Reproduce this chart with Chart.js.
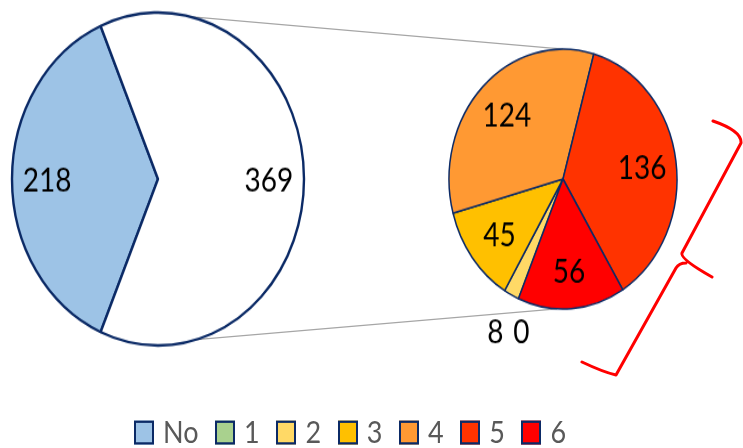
<!DOCTYPE html>
<html>
<head>
<meta charset="utf-8">
<script src="https://cdn.jsdelivr.net/npm/chart.js@4/dist/chart.umd.min.js"></script>
<style>
  html, body { margin: 0; padding: 0; background: #fff; }
  #wrap { position: relative; width: 743px; height: 448px; overflow: hidden; background: #fff; font-family: Lato, "Open Sans", sans-serif; }
  canvas.pie { position: absolute; transform-origin: 50% 50%; }
  #links { position: absolute; left: 0; top: 0; z-index: 0; }
  #pieA { z-index: 1; }
  #pieB { z-index: 1; }
  #brace { position: absolute; left: 0; top: 0; z-index: 2; }
  #legend { position: absolute; left: 134px; top: 417px; height: 30px; display: flex; align-items: center; z-index: 3; transform: scaleY(1.14); transform-origin: 0 50%; }
  .item { display: flex; align-items: center; margin-right: 16.6px; }
  .box { width: 20px; height: 21px; box-sizing: border-box; border: 2.5px solid #0b2a66; margin-right: 9px; }
  .txt { font-size: 27px; line-height: 30px; color: #595959; font-family: Lato, "Open Sans", sans-serif; }
</style>
</head>
<body>
<div id="wrap">
  <canvas id="links" width="743" height="448" style="width:743px;height:448px"></canvas>
  <canvas id="pieA" class="pie" width="300" height="300"></canvas>
  <canvas id="pieB" class="pie" width="330" height="330"></canvas>
  <svg id="brace" width="743" height="448" viewBox="0 0 743 448">
    <path d="M713,121 Q742,131 741,143 L682,253 Q680,259 712,277 M686,263 Q679,263 676,268 L616,375 Q603,372 582,362"
          fill="none" stroke="#ff0000" stroke-width="3" stroke-linecap="round" stroke-linejoin="round"/>
  </svg>
  <div id="legend"></div>
</div>
<script>
// ---- data ----
const primaryLabels = ['No', 'Yes'];
const primaryValues = [218, 369];
const secondaryLabels = ['1', '2', '3', '4', '5', '6'];
const secondaryValues = [0, 8, 45, 124, 136, 56];
const legendLabels = ['No', '1', '2', '3', '4', '5', '6'];

// ---- styles ----
const colorNo = '#9dc3e6';
const colorRest = '#ffffff';
const secondaryColors = ['#a9d18e', '#ffd966', '#ffc000', '#ff9933', '#ff3300', '#ff0000'];
const legendColors = [colorNo].concat(secondaryColors);
const outline = '#0b2a66';
const SY = 1.14;

const labelPlugin = {
  id: 'sliceLabels',
  afterDatasetsDraw(chart, args, opts) {
    const ctx = chart.ctx;
    const meta = chart.getDatasetMeta(0);
    const vals = chart.data.datasets[0].data;
    const total = vals.reduce((a, b) => a + b, 0);
    const items = [];
    meta.data.forEach((arc, i) => {
      const mid = (arc.startAngle + arc.endAngle) / 2;
      const outside = vals[i] / total < 0.05;
      const f = outside ? opts.outsideFactor : opts.insideFactor;
      items.push({
        x: arc.x + Math.cos(mid) * arc.outerRadius * f,
        y: arc.y + Math.sin(mid) * arc.outerRadius * f,
        text: String(vals[i]), outside
      });
    });
    const outs = items.filter(o => o.outside).sort((a, b) => a.x - b.x);
    for (let k = 1; k < outs.length; k++) {
      if (outs[k].x < outs[k - 1].x + opts.gap) outs[k].x = outs[k - 1].x + opts.gap;
      outs[k].y = outs[k - 1].y;
    }
    ctx.save();
    ctx.fillStyle = '#000';
    ctx.font = '28px Lato, "Open Sans", sans-serif';
    ctx.textAlign = 'center';
    ctx.textBaseline = 'middle';
    items.forEach(it => ctx.fillText(it.text, it.x, it.y + 2));
    ctx.restore();
  }
};

function place(canvas, cx, cy, size) {
  canvas.style.width = size + 'px';
  canvas.style.height = size + 'px';
  canvas.style.left = (cx - size / 2) + 'px';
  canvas.style.top = (cy - size / 2) + 'px';
  canvas.style.transform = 'scaleY(' + SY + ')';
}

const cA = document.getElementById('pieA');
const cB = document.getElementById('pieB');
place(cA, 158, 179, 300);
place(cB, 563, 179, 330);

const totalA = primaryValues.reduce((a, b) => a + b, 0);

const chartA = new Chart(cA, {
  type: 'pie',
  data: {
    labels: primaryLabels,
    datasets: [{
      data: primaryValues,
      backgroundColor: [colorNo, colorRest],
      borderColor: outline,
      borderWidth: 2.4,
      hoverOffset: 0
    }]
  },
  options: {
    responsive: false,
    animation: false,
    radius: 146,
    rotation: 270 - primaryValues[0] / totalA * 180,
    layout: { padding: 0 },
    plugins: {
      legend: { display: false },
      tooltip: { enabled: false },
      sliceLabels: { insideFactor: 0.76, outsideFactor: 1.3, gap: 26 }
    }
  },
  plugins: [labelPlugin]
});

const chartB = new Chart(cB, {
  type: 'pie',
  data: {
    labels: secondaryLabels,
    datasets: [{
      data: secondaryValues,
      backgroundColor: secondaryColors,
      borderColor: outline,
      borderWidth: 1.5,
      hoverOffset: 0
    }]
  },
  options: {
    responsive: false,
    animation: false,
    radius: 114,
    rotation: 203,
    layout: { padding: 0 },
    plugins: {
      legend: { display: false },
      tooltip: { enabled: false },
      sliceLabels: { insideFactor: 0.7, outsideFactor: 1.31, gap: 26 }
    }
  },
  plugins: [labelPlugin]
});

// connector lines between pies, computed from the pie geometry
function pagePoint(chart, canvas, angleDeg) {
  const arc = chart.getDatasetMeta(0).data[0];
  const r = arc.outerRadius;
  const a = angleDeg * Math.PI / 180;
  const h = canvas.offsetHeight;
  const cx = canvas.offsetLeft + arc.x;
  const cy = canvas.offsetTop + h / 2 + (arc.y - h / 2) * SY;
  return [cx + r * Math.sin(a), cy - r * SY * Math.cos(a)];
}
const lc = document.getElementById('links').getContext('2d');
lc.strokeStyle = '#a6a6a6';
lc.lineWidth = 1.2;
[[12.6, 0], [164.8, 183]].forEach(([aA, aB]) => {
  const p = pagePoint(chartA, cA, aA);
  const q = pagePoint(chartB, cB, aB);
  lc.beginPath();
  lc.moveTo(p[0], p[1]);
  lc.lineTo(q[0], q[1]);
  lc.stroke();
});

// legend
const legend = document.getElementById('legend');
legendLabels.forEach((lab, i) => {
  const it = document.createElement('div');
  it.className = 'item';
  const b = document.createElement('div');
  b.className = 'box';
  b.style.background = legendColors[i];
  const t = document.createElement('span');
  t.className = 'txt';
  t.textContent = lab;
  it.appendChild(b); it.appendChild(t);
  legend.appendChild(it);
});
</script>
</body>
</html>
